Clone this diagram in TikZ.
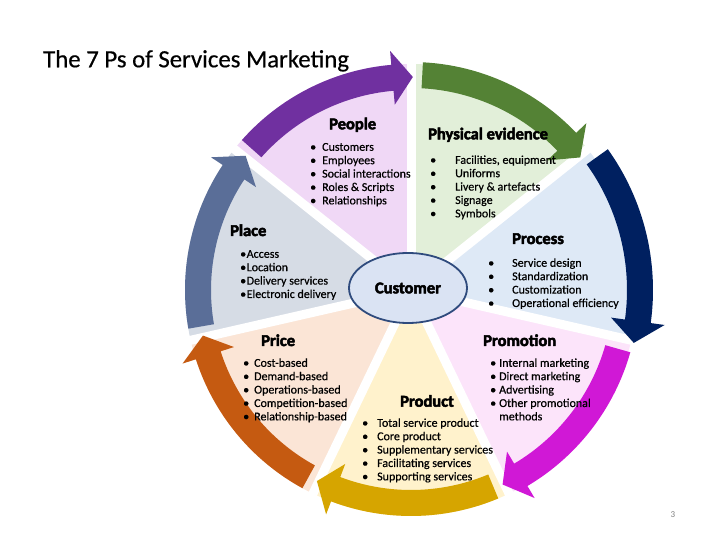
\documentclass[tikz,border=0pt]{standalone}
\usepackage{fontspec}
\setmainfont{Carlito}
\newfontfamily\heavyfont{Carlito}[FakeBold=3]
\newfontfamily\bodyfont{Carlito}[FakeBold=0.5]
\usetikzlibrary{shapes.geometric}
\definecolor{peoplebg}{RGB}{240,216,246}
\definecolor{physbg}{RGB}{226,239,217}
\definecolor{procbg}{RGB}{222,233,246}
\definecolor{prombg}{RGB}{252,228,250}
\definecolor{prodbg}{RGB}{255,242,204}
\definecolor{pricebg}{RGB}{251,229,214}
\definecolor{placebg}{RGB}{214,220,229}
\definecolor{peoplearr}{RGB}{112,48,160}
\definecolor{physarr}{RGB}{84,130,53}
\definecolor{procarr}{RGB}{0,32,96}
\definecolor{promarr}{RGB}{208,24,214}
\definecolor{prodarr}{RGB}{214,165,0}
\definecolor{pricearr}{RGB}{197,90,17}
\definecolor{placearr}{RGB}{90,110,152}
\definecolor{custbg}{RGB}{218,227,243}
\definecolor{custline}{RGB}{47,75,125}
\newlength\bulw
\newcommand\itm[1]{\makebox[\bulw][l]{\textbullet}#1}
\newcommand\cont[1]{\hspace*{\bulw}#1}
\newcommand\plist[2]{\setlength\bulw{#1}\begin{tabular}{@{}l@{}}#2\end{tabular}}
\tikzset{
  gapline/.style={white,line width=9pt},
  heading/.style={font=\heavyfont\bfseries\fontsize{16.5}{18}\selectfont,anchor=base west,inner sep=0pt},
  itemlist/.style={font=\bodyfont\fontsize{12}{13.4}\selectfont,anchor=north west,inner sep=0pt,align=left},
}

\begin{document}
\begin{tikzpicture}[x=1pt,y=1pt]
\useasboundingbox (-411,-250) rectangle (309,290);
\foreach \bg [count=\i from 0] in {peoplebg,physbg,procbg,prombg,prodbg,pricebg,placebg}{
  \pgfmathsetmacro\sa{141.4286-51.4286*\i}
  \pgfmathsetmacro\ea{\sa-51.4286}
  \fill[\bg] (0,0) -- (\sa:226) arc[start angle=\sa,end angle=\ea,radius=226] -- cycle;
}
\foreach \i in {0,...,6}
  \draw[gapline] (0,0) -- ({141.4286-51.4286*\i}:240);
\foreach \arrc/\dr [count=\i from 0] in {peoplearr/0,physarr/2,procarr/16,promarr/2,prodarr/0,pricearr/0,placearr/0}{
  \pgfmathsetmacro\ta{141.4286-51.4286*\i-3}
  \pgfmathsetmacro\hb{141.4286-51.4286*(\i+1)+5}
  \pgfmathsetmacro\tp{141.4286-51.4286*(\i+1)-0.5}
  \pgfmathsetmacro\ro{226+\dr}
  \pgfmathsetmacro\ri{200+\dr}
  \fill[\arrc] (\ta:\ro) arc[start angle=\ta,end angle=\hb,radius=\ro] -- (\hb:\ro+14)
    -- (\tp:\ri+13) -- (\hb:\ri-14) -- (\hb:\ri) arc[start angle=\hb,end angle=\ta,radius=\ri] -- cycle;
}
\node[ellipse,draw=custline,fill=custbg,line width=1.8pt,minimum width=118pt,minimum height=70pt,
  font=\heavyfont\bfseries\fontsize{16.5}{18}\selectfont] (customer) at (-3,2) {Customer};

\node[anchor=base west,inner sep=0pt,font=\bodyfont\fontsize{24.8}{28}\selectfont] (title) at (-368,222.7) {The 7 Ps of Services Marketing};

\node[heading] (people) at (-82,160.7) {People};
\node[heading] (physical) at (17,150.7) {Physical evidence};
\node[heading] (process) at (101,46) {Process};
\node[heading] (place) at (-181,54) {Place};
\node[heading] (price) at (-150,-56) {Price};
\node[heading] (promotion) at (72,-56) {Promotion};
\node[heading] (product) at (-11,-116.7) {Product};

\node[itemlist] (peoplelist) at (-101,148.8) {\plist{12pt}{\itm{Customers}\\\itm{Employees}\\\itm{Social interactions}\\\itm{Roles \& Scripts}\\\itm{Relationships}}};
\node[itemlist] (physlist) at (19,135.8) {\plist{25pt}{\itm{Facilities, equipment}\\\itm{Uniforms}\\\itm{Livery \& artefacts}\\\itm{Signage}\\\itm{Symbols}}};
\node[itemlist] (proclist) at (77,32.8) {\plist{24pt}{\itm{Service design}\\\itm{Standardization}\\\itm{Customization}\\\itm{Operational efficiency}}};
\node[itemlist] (placelist) at (-171,41.8) {\plist{6.5pt}{\itm{Access}\\\itm{Location}\\\itm{Delivery services}\\\itm{Electronic delivery}}};
\node[itemlist] (pricelist) at (-168,-67.2) {\plist{11pt}{\itm{Cost-based}\\\itm{Demand-based}\\\itm{Operations-based}\\\itm{Competition-based}\\\itm{Relationship-based}}};
\node[itemlist] (promlist) at (79,-67.2) {\plist{9pt}{\itm{Internal marketing}\\\itm{Direct marketing}\\\itm{Advertising}\\\itm{Other promotional}\\\cont{methods}}};
\node[itemlist] (prodlist) at (-49,-127.2) {\plist{15pt}{\itm{Total service product}\\\itm{Core product}\\\itm{Supplementary services}\\\itm{Facilitating services}\\\itm{Supporting services}}};

\node[font=\fontsize{9}{10}\selectfont,text=gray] (pagenum) at (262,-225) {3};
\end{tikzpicture}
\end{document}
